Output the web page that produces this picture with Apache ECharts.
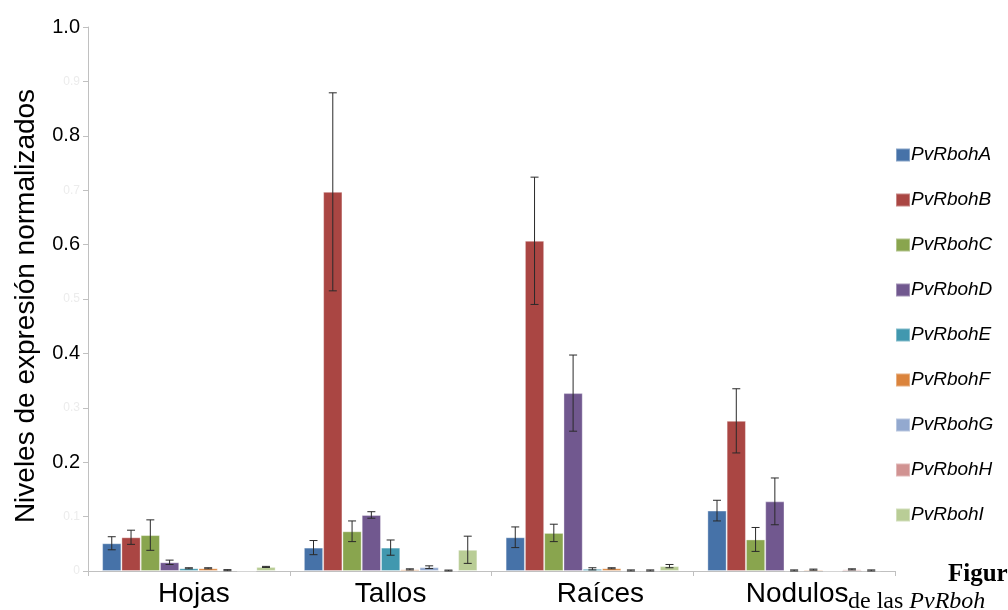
<!DOCTYPE html>
<html>
<head>
<meta charset="utf-8">
<script src="https://cdn.jsdelivr.net/npm/echarts@6/dist/echarts.min.js"></script>
<style>
  html, body { margin: 0; padding: 0; background: #ffffff; }
  #chart { width: 1008px; height: 610px; }
</style>
</head>
<body>
<div id="chart"></div>
<script>
// Tissues on the x axis
const categories = ['Hojas', 'Tallos', 'Raíces', 'Nodulos'];

// Gene names (one bar series per gene)
const seriesNames = ['PvRbohA', 'PvRbohB', 'PvRbohC', 'PvRbohD', 'PvRbohE',
                     'PvRbohF', 'PvRbohG', 'PvRbohH', 'PvRbohI'];

// Normalised expression per gene, in the order of categories
const valA = [0.051, 0.043, 0.062, 0.111];
const valB = [0.062, 0.697, 0.607, 0.276];
const valC = [0.066, 0.073, 0.070, 0.058];
const valD = [0.016, 0.103, 0.327, 0.128];
const valE = [0.005, 0.043, 0.004, 0.001];
const valF = [0.005, 0.003, 0.005, 0.0025];
const valG = [0.0015, 0.007, 0.001, 0];
const valH = [0, 0.0007, 0.001, 0.003];
const valI = [0.0075, 0.039, 0.009, 0.001];

// Error (± standard error) per gene
const errA = [0.012, 0.013, 0.019, 0.019];
const errB = [0.013, 0.182, 0.117, 0.059];
const errC = [0.028, 0.019, 0.016, 0.022];
const errD = [0.004, 0.006, 0.070, 0.043];
const errE = [0.001, 0.014, 0.002, 0.001];
const errF = [0.001, 0.001, 0.001, 0.001];
const errG = [0.001, 0.0025, 0.001, 0];
const errH = [0, 0.001, 0.001, 0.001];
const errI = [0.001, 0.025, 0.003, 0.001];

// Y axis ticks, every 0.1
const yTicks = [0, 0.1, 0.2, 0.3, 0.4, 0.5, 0.6, 0.7, 0.8, 0.9, 1.0];

const values = [valA, valB, valC, valD, valE, valF, valG, valH, valI];
const errors = [errA, errB, errC, errD, errE, errF, errG, errH, errI];
const colors = ['#4672a8', '#aa4643', '#89a54e', '#71588f', '#4198af',
                '#db843d', '#93a9cf', '#d19392', '#b9cd96'];

const FONT = '"Liberation Sans", Arial, sans-serif';
const GAP_RATIO = 0.14;

// Small rightward nudges of the tissue labels (px)
const labelNudge = { 'Hojas': 5, 'Tallos': 0, 'Raíces': 8, 'Nodulos': 3 };

const barSeries = seriesNames.map((name, i) => ({
  name: name,
  type: 'bar',
  data: values[i],
  barGap: '0%',
  barCategoryGap: (GAP_RATIO * 100) + '%',
  itemStyle: {
    color: colors[i],
    borderColor: 'rgba(255,255,255,0.35)',
    borderWidth: 1
  },
  emphasis: { disabled: true }
}));

// Error bar items: [category index, series index, value, error]
const errData = [];
seriesNames.forEach((_, s) => {
  categories.forEach((_, c) => {
    if (errors[s][c] > 0) errData.push([c, s, values[s][c], errors[s][c]]);
  });
});

const errorSeries = {
  type: 'custom',
  name: 'err',
  z: 10,
  silent: true,
  encode: { x: 0, y: 2 },
  data: errData,
  renderItem: function (params, api) {
    const c = api.value(0), s = api.value(1), v = api.value(2), e = api.value(3);
    const catW = api.size([1, 0])[0];
    const n = seriesNames.length;
    const barW = catW * (1 - GAP_RATIO) / n;
    const center = api.coord([c, 0])[0];
    const x = center - (barW * n) / 2 + (s + 0.5) * barW;
    const yHi = api.coord([c, v + e])[1];
    const yLo = api.coord([c, Math.max(0, v - e)])[1];
    const cap = 4;
    const style = { stroke: '#2a2a2a', lineWidth: 1 };
    return {
      type: 'group',
      children: [
        { type: 'line', shape: { x1: x, y1: yHi, x2: x, y2: yLo }, style: style },
        { type: 'line', shape: { x1: x - cap, y1: yHi, x2: x + cap, y2: yHi }, style: style },
        { type: 'line', shape: { x1: x - cap, y1: yLo, x2: x + cap, y2: yLo }, style: style }
      ]
    };
  }
};

const catRich = {};
categories.forEach((name, i) => {
  catRich['c' + i] = {
    fontSize: 28, color: '#000000', fontFamily: FONT,
    padding: [0, 0, 0, 2 * labelNudge[name]]
  };
});

const chart = echarts.init(document.getElementById('chart'), null, { renderer: 'canvas' });

chart.setOption({
  animation: false,
  backgroundColor: '#ffffff',
  textStyle: { fontFamily: FONT },
  grid: { left: 88, right: 113, top: 27, bottom: 39, containLabel: false },
  legend: {
    data: seriesNames,
    orient: 'vertical',
    left: 895,
    top: 145,
    padding: 0,
    itemWidth: 14,
    itemHeight: 13,
    itemGap: 25,
    icon: 'rect',
    selectedMode: false,
    textStyle: {
      fontFamily: FONT,
      fontStyle: 'italic',
      fontSize: 19,
      lineHeight: 20,
      color: '#000000',
      padding: [0, 0, 0, -4]
    }
  },
  xAxis: {
    type: 'category',
    data: categories,
    boundaryGap: true,
    axisLine: { lineStyle: { color: '#c0c0c0', width: 1 } },
    axisTick: { show: true, length: 5, interval: 0, lineStyle: { color: '#c0c0c0' } },
    axisLabel: {
      interval: 0,
      hideOverlap: false,
      fontSize: 28, color: '#000000', margin: 9, fontFamily: FONT,
      formatter: function (v) {
        return '{c' + categories.indexOf(v) + '|' + v + '}';
      },
      rich: catRich
    }
  },
  yAxis: {
    type: 'value',
    min: 0,
    max: 1.0,
    interval: 0.1,
    name: 'Niveles de expresión normalizados',
    nameLocation: 'middle',
    nameGap: 48,
    nameTextStyle: { fontSize: 28, color: '#000000', fontFamily: FONT, padding: [0, 14, 0, 0] },
    axisLine: { show: true, lineStyle: { color: '#c0c0c0', width: 1 } },
    axisTick: { show: true, length: 5, lineStyle: { color: '#c0c0c0' } },
    splitLine: { show: false },
    axisLabel: {
      margin: 8,
      formatter: function (v) {
        const k = Math.round(v * 10);
        if (yTicks.indexOf(k / 10) < 0) return '';
        if (k === 0) return '{f|0}';
        if (k % 2 === 1) return '{f|' + (k / 10).toFixed(1) + '}';
        return '{m|' + (k / 10).toFixed(1) + '}';
      },
      rich: {
        m: { fontSize: 20, color: '#000000', fontFamily: FONT },
        f: { fontSize: 12, color: '#ececec', fontFamily: FONT }
      }
    }
  },
  graphic: [
    {
      type: 'text',
      left: 948,
      top: 562,
      style: {
        text: 'Figura',
        font: 'bold 25px "Liberation Serif", "Times New Roman", serif',
        fill: '#000000'
      }
    },
    {
      type: 'text',
      left: 848,
      top: 590,
      style: {
        text: '{r|de las }{i|PvRboh}',
        rich: {
          r: { font: '24px "Liberation Serif", "Times New Roman", serif', fill: '#000000' },
          i: { font: 'italic 24px "Liberation Serif", "Times New Roman", serif', fill: '#000000' }
        }
      }
    }
  ],
  series: barSeries.concat([errorSeries])
});
</script>
</body>
</html>
